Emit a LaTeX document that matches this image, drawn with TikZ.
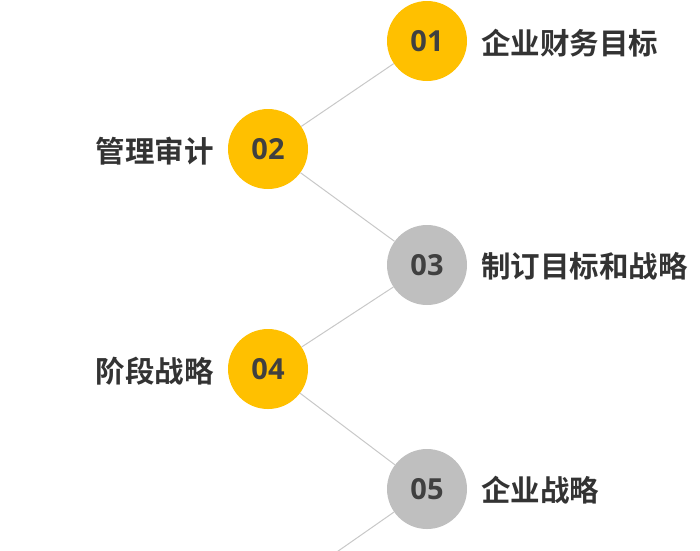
\documentclass[tikz,border=0pt]{standalone}
\usepackage{fontspec}
\newfontfamily\cjkfont{Noto Sans CJK SC Bold}
\newfontfamily\numfont{Open Sans}
\usepackage{xcolor}
\usepackage{tikz}
\usetikzlibrary{positioning,calc}
\definecolor{stepgold}{HTML}{FFC000}
\definecolor{stepgrey}{HTML}{BFBFBF}
\definecolor{numtext}{HTML}{404040}
\definecolor{labeltext}{HTML}{333333}
\definecolor{linkgrey}{HTML}{C8C8C8}
\tikzstyle{stepdot}  =[circle, minimum size=80pt, inner sep=0pt, text=numtext,
                       font=\numfont\bfseries\fontsize{29}{29}\selectfont]
\tikzstyle{golddot}  =[stepdot, fill=stepgold]
\tikzstyle{greydot}  =[stepdot, fill=stepgrey]
\tikzstyle{steplabel}=[inner sep=0pt, text=labeltext,
                       font=\cjkfont\fontsize{29.5}{29.5}\selectfont]
\tikzstyle{link}     =[draw=linkgrey, line width=1pt]

\begin{document}
\begin{tikzpicture}[x=1pt, y=-1pt, node distance=14pt]
  \useasboundingbox (0,0) rectangle (700,550);

  % ── circles at explicit coordinates ─────────────────────────────────────────
  \coordinate (c06) at (268, 600);
  \node[golddot] (c01) at (427,  41) {01};
  \node[golddot] (c02) at (268, 149) {02};
  \node[greydot] (c03) at (427, 265) {03};
  \node[golddot] (c04) at (268, 369) {04};
  \node[greydot] (c05) at (427, 489) {05};

  % ── labels beside the circles ───────────────────────────────────────────────
  \node[steplabel, right=of c01, yshift=-2pt] (t01) {企业财务目标};
  \node[steplabel, left=of c02,  yshift=-2pt] (t02) {管理审计};
  \node[steplabel, right=of c03, yshift=-1pt] (t03) {制订目标和战略};
  \node[steplabel, left=of c04,  yshift=-2pt] (t04) {阶段战略};
  \node[steplabel, right=of c05, yshift=-1pt] (t05) {企业战略};

  % ── zig-zag links between the circles ───────────────────────────────────────
  \draw[link] (c01) -- (c02);
  \draw[link] (c02) -- (c03);
  \draw[link] (c03) -- (c04);
  \draw[link] (c04) -- (c05);
  \draw[link] (c05) -- (c06);

\end{tikzpicture}
\end{document}
